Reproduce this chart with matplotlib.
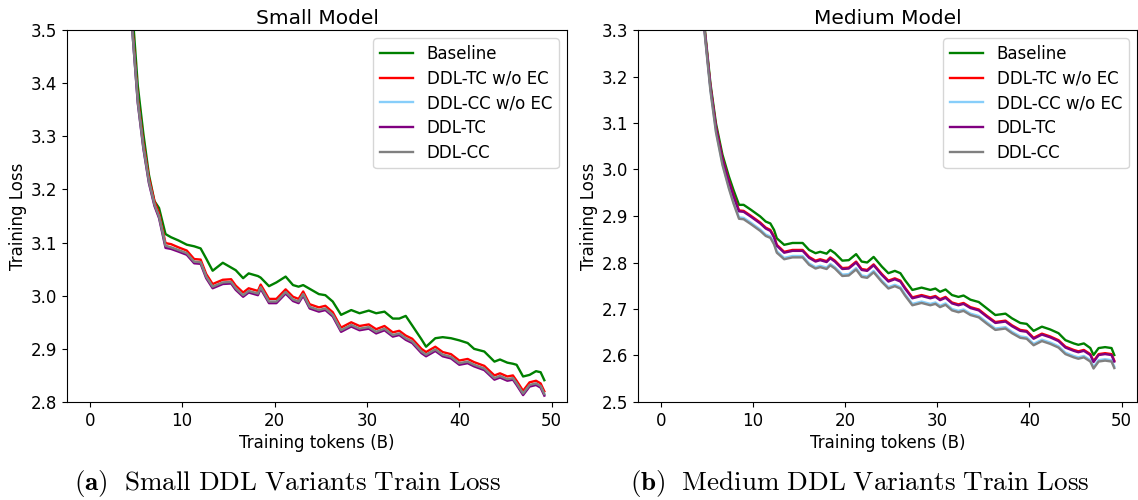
import matplotlib
matplotlib.use("Agg")
import matplotlib.pyplot as plt

plt.rcParams["mathtext.fontset"] = "cm"

labels = ["Baseline", "DDL-TC w/o EC", "DDL-CC w/o EC", "DDL-TC", "DDL-CC"]
colors = ["green", "red", "lightskyblue", "purple", "gray"]

# Small model (training tokens in B)
small_x = [0, 1, 2, 3, 4, 4.6, 5.2, 5.8, 6.4, 7.0, 7.5, 8.2, 8.8, 9.6, 10.5,
           11.3, 12.0, 12.6, 13.3, 14.4, 15.3, 15.8, 16.6, 17.2, 18.2, 18.5,
           19.4, 20.2, 21.2, 22.0, 22.6, 23.1, 23.8, 24.8, 25.5, 26.3, 27.2,
           28.3, 29.2, 30.2, 31.0, 31.9, 32.8, 33.5, 34.2, 34.9, 35.9, 36.4,
           37.4, 38.2, 39.1, 40.0, 40.9, 41.6, 42.7, 43.8, 44.4, 45.2, 45.8,
           46.2, 46.9, 47.6, 48.3, 48.8, 49.2]
small_baseline = [10.0, 6.6, 5.0, 4.3, 3.78, 3.54, 3.395, 3.305, 3.228, 3.178,
                  3.165, 3.116, 3.110, 3.104, 3.096, 3.093, 3.089, 3.070, 3.047,
                  3.062, 3.053, 3.048, 3.033, 3.042, 3.037, 3.034, 3.018, 3.025,
                  3.036, 3.020, 3.017, 3.020, 3.013, 3.003, 3.001, 2.989, 2.964,
                  2.973, 2.967, 2.972, 2.967, 2.970, 2.957, 2.957, 2.962, 2.944,
                  2.918, 2.904, 2.920, 2.922, 2.920, 2.916, 2.911, 2.900, 2.895,
                  2.876, 2.880, 2.874, 2.872, 2.870, 2.848, 2.851, 2.858, 2.856,
                  2.841]
small_tc_noec = [10.0, 6.55, 4.92, 4.22, 3.73, 3.51, 3.372, 3.288, 3.222, 3.178,
                 3.155, 3.099, 3.097, 3.091, 3.085, 3.069, 3.068, 3.041, 3.022,
                 3.030, 3.031, 3.019, 3.006, 3.014, 3.009, 3.021, 2.994, 2.994,
                 3.012, 2.998, 2.994, 3.008, 2.984, 2.978, 2.981, 2.969, 2.940,
                 2.950, 2.943, 2.946, 2.937, 2.943, 2.931, 2.934, 2.925, 2.919,
                 2.900, 2.894, 2.904, 2.894, 2.890, 2.878, 2.881, 2.875, 2.868,
                 2.850, 2.854, 2.848, 2.850, 2.840, 2.821, 2.837, 2.840, 2.835,
                 2.820]
small_cc_noec = [10.0, 6.5, 4.9, 4.2, 3.72, 3.499, 3.364, 3.279, 3.214, 3.171,
                 3.148, 3.093, 3.090, 3.085, 3.079, 3.063, 3.062, 3.035, 3.016,
                 3.024, 3.025, 3.013, 3.000, 3.008, 3.003, 3.015, 2.988, 2.988,
                 3.006, 2.992, 2.988, 3.002, 2.978, 2.972, 2.975, 2.963, 2.934,
                 2.944, 2.937, 2.940, 2.931, 2.937, 2.925, 2.928, 2.919, 2.913,
                 2.894, 2.888, 2.898, 2.888, 2.884, 2.872, 2.875, 2.869, 2.862,
                 2.844, 2.848, 2.842, 2.844, 2.834, 2.815, 2.831, 2.834, 2.829,
                 2.814]
small_tc = [10.0, 6.5, 4.9, 4.2, 3.72, 3.50, 3.362, 3.277, 3.212, 3.169,
            3.146, 3.090, 3.088, 3.083, 3.077, 3.061, 3.060, 3.033, 3.014,
            3.022, 3.023, 3.011, 2.998, 3.006, 3.001, 3.013, 2.986, 2.986,
            3.004, 2.990, 2.986, 3.000, 2.976, 2.970, 2.973, 2.961, 2.932,
            2.942, 2.935, 2.938, 2.929, 2.935, 2.923, 2.926, 2.917, 2.911,
            2.892, 2.886, 2.896, 2.886, 2.882, 2.870, 2.873, 2.867, 2.860,
            2.842, 2.846, 2.840, 2.842, 2.832, 2.813, 2.829, 2.832, 2.827,
            2.812]
small_cc = [10.0, 6.5, 4.9, 4.2, 3.72, 3.50, 3.365, 3.28, 3.215, 3.172,
            3.149, 3.094, 3.091, 3.086, 3.080, 3.064, 3.063, 3.036, 3.017,
            3.025, 3.026, 3.014, 3.001, 3.009, 3.004, 3.016, 2.989, 2.989,
            3.007, 2.993, 2.989, 3.003, 2.979, 2.973, 2.976, 2.964, 2.935,
            2.945, 2.938, 2.941, 2.932, 2.938, 2.926, 2.929, 2.920, 2.914,
            2.895, 2.889, 2.899, 2.889, 2.885, 2.873, 2.876, 2.870, 2.863,
            2.845, 2.849, 2.843, 2.845, 2.835, 2.816, 2.832, 2.835, 2.830,
            2.815]

# Medium model
medium_x = [0, 1, 2, 3, 4, 4.8, 5.4, 6.0, 6.7, 7.4, 7.9, 8.5, 9.0, 9.75, 10.8,
            11.4, 11.9, 12.3, 12.6, 13.4, 14.3, 15.4, 16.1, 16.8, 17.3, 18.0,
            18.4, 18.9, 19.7, 20.4, 21.2, 21.8, 22.4, 23.1, 24.0, 24.7, 25.4,
            26.0, 26.5, 27.3, 28.3, 29.25, 29.8, 30.3, 30.9, 31.6, 32.3, 32.85,
            33.6, 34.5, 35.4, 36.3, 37.4, 38.1, 39.0, 39.7, 40.45, 41.35, 42.25,
            43.15, 43.9, 44.8, 45.3, 45.9, 46.6, 46.95, 47.5, 48.2, 48.9, 49.2]
medium_baseline = [10.0, 6.4, 4.8, 4.0, 3.55, 3.30, 3.185, 3.099, 3.032, 2.985,
                   2.956, 2.924, 2.924, 2.914, 2.899, 2.888, 2.884, 2.870, 2.852,
                   2.838, 2.842, 2.842, 2.827, 2.820, 2.823, 2.819, 2.827, 2.820,
                   2.804, 2.805, 2.818, 2.802, 2.800, 2.812, 2.791, 2.777, 2.782,
                   2.777, 2.762, 2.741, 2.746, 2.741, 2.744, 2.737, 2.742, 2.730,
                   2.726, 2.729, 2.720, 2.715, 2.701, 2.687, 2.690, 2.680, 2.670,
                   2.668, 2.653, 2.662, 2.656, 2.648, 2.633, 2.626, 2.623, 2.626,
                   2.616, 2.601, 2.616, 2.618, 2.616, 2.601]
medium_tc_noec = [10.0, 6.4, 4.8, 4.0, 3.55, 3.295, 3.179, 3.092, 3.024, 2.976,
                  2.945, 2.912, 2.911, 2.901, 2.886, 2.875, 2.870, 2.856, 2.838,
                  2.823, 2.827, 2.827, 2.812, 2.804, 2.807, 2.803, 2.811, 2.804,
                  2.788, 2.789, 2.802, 2.786, 2.784, 2.796, 2.775, 2.761, 2.766,
                  2.761, 2.746, 2.725, 2.730, 2.725, 2.728, 2.721, 2.726, 2.714,
                  2.710, 2.713, 2.704, 2.699, 2.685, 2.672, 2.675, 2.665, 2.655,
                  2.653, 2.638, 2.647, 2.641, 2.633, 2.619, 2.612, 2.609, 2.612,
                  2.603, 2.588, 2.603, 2.605, 2.603, 2.589]
medium_cc_noec = [10.0, 6.4, 4.8, 4.0, 3.55, 3.29, 3.172, 3.083, 3.013, 2.962,
                  2.930, 2.897, 2.896, 2.886, 2.871, 2.860, 2.856, 2.842, 2.824,
                  2.810, 2.814, 2.814, 2.798, 2.790, 2.793, 2.789, 2.797, 2.790,
                  2.774, 2.775, 2.788, 2.772, 2.770, 2.782, 2.761, 2.747, 2.752,
                  2.747, 2.732, 2.711, 2.716, 2.711, 2.714, 2.707, 2.712, 2.700,
                  2.696, 2.699, 2.690, 2.685, 2.671, 2.658, 2.661, 2.651, 2.641,
                  2.639, 2.625, 2.634, 2.628, 2.620, 2.606, 2.599, 2.596, 2.599,
                  2.590, 2.575, 2.590, 2.592, 2.590, 2.576]
medium_tc = [10.0, 6.4, 4.8, 4.0, 3.55, 3.293, 3.177, 3.090, 3.022, 2.974,
             2.943, 2.910, 2.909, 2.899, 2.884, 2.873, 2.868, 2.854, 2.836,
             2.821, 2.825, 2.825, 2.810, 2.802, 2.805, 2.801, 2.809, 2.802,
             2.786, 2.787, 2.800, 2.784, 2.782, 2.794, 2.773, 2.759, 2.764,
             2.759, 2.744, 2.723, 2.728, 2.723, 2.726, 2.719, 2.724, 2.712,
             2.708, 2.711, 2.702, 2.697, 2.683, 2.670, 2.673, 2.663, 2.653,
             2.651, 2.636, 2.645, 2.639, 2.631, 2.617, 2.610, 2.607, 2.610,
             2.601, 2.586, 2.601, 2.603, 2.601, 2.587]
medium_cc = [10.0, 6.4, 4.8, 4.0, 3.55, 3.287, 3.169, 3.080, 3.010, 2.959,
             2.927, 2.894, 2.893, 2.883, 2.868, 2.857, 2.853, 2.839, 2.821,
             2.807, 2.811, 2.811, 2.795, 2.787, 2.790, 2.786, 2.794, 2.787,
             2.771, 2.772, 2.785, 2.769, 2.767, 2.779, 2.758, 2.744, 2.749,
             2.744, 2.729, 2.708, 2.713, 2.708, 2.711, 2.704, 2.709, 2.697,
             2.693, 2.696, 2.687, 2.682, 2.668, 2.655, 2.658, 2.648, 2.638,
             2.636, 2.622, 2.631, 2.625, 2.617, 2.603, 2.596, 2.593, 2.596,
             2.587, 2.572, 2.587, 2.589, 2.587, 2.573]

panels = [
    ("Small Model", small_x,
     [small_baseline, small_tc_noec, small_cc_noec, small_tc, small_cc],
     (2.8, 3.5), r"$\mathbf{(a)}\ \ \mathrm{Small\ DDL\ Variants\ Train\ Loss}$"),
    ("Medium Model", medium_x,
     [medium_baseline, medium_tc_noec, medium_cc_noec, medium_tc, medium_cc],
     (2.5, 3.3), r"$\mathbf{(b)}\ \ \mathrm{Medium\ DDL\ Variants\ Train\ Loss}$"),
]

fig = plt.figure(figsize=(11.38, 5.0), dpi=100)
ax_rects = [[0.0589, 0.196, 0.4394, 0.744], [0.5606, 0.196, 0.4385, 0.744]]
caption_x = [0.2527, 0.7553]

for rect, cx, (title, x, series, ylim, caption) in zip(ax_rects, caption_x, panels):
    ax = fig.add_axes(rect)
    for y, lab, col in zip(series, labels, colors):
        ax.plot(x, y, color=col, lw=1.7, label=lab)
    ax.set_ylim(*ylim)
    ax.set_title(title, fontsize=14.5, pad=4)
    ax.set_xlabel("Training tokens (B)", fontsize=12, labelpad=3)
    ax.set_ylabel("Training Loss", fontsize=12, labelpad=3)
    ax.tick_params(labelsize=12)
    ax.legend(loc="upper right", fontsize=12, labelspacing=0.4)
    fig.text(cx, 0.02, caption, ha="center", va="baseline", fontsize=19.5)

fig.savefig("out.png", dpi=100)
